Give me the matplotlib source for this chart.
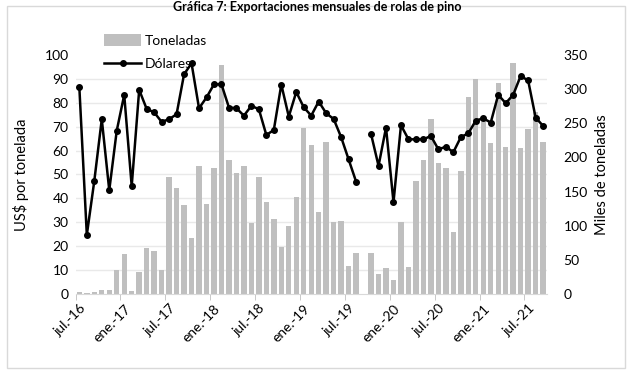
import numpy as np
import matplotlib.pyplot as plt
from matplotlib.ticker import MultipleLocator
from matplotlib.patches import Rectangle

# Monthly data, jul-16 .. sep-21 (ago-19 missing)
toneladas = [3.4, 2, 3.4, 5.9, 6.3, 34.6, 59, 4.4, 32.2, 67.3,
             62.4, 35.1, 170.8, 155.2, 129.8, 82, 187.4, 131.8, 185, 335.3,
             196.2, 176.7, 187.4, 103.5, 171.8, 134.7, 109.8, 68.8, 100, 142,
             243, 218.6, 120, 223, 105.4, 106.4, 41.5, 60, np.nan, 60,
             28.8, 38, 20, 105.4, 39, 165.4, 196.2, 256.2, 191.3, 184.5,
             91.3, 180.6, 289, 314.3, 257, 221.6, 309.4, 214.8, 337.8, 213.3,
             241.6, 266, 223]   # miles de toneladas

dolares = [86.5, 24.7, 47.3, 73.1, 43.4, 68.3, 83.3, 45.1, 85.4, 77.4,
           76.0, 72.0, 73.1, 75.2, 91.9, 96.5, 77.7, 82.2, 87.7, 87.7,
           78.0, 77.7, 74.6, 78.7, 77.3, 66.5, 68.6, 87.6, 74.2, 84.5,
           78.1, 74.6, 80.5, 75.6, 73.2, 65.6, 56.3, 47.0, np.nan, 66.9,
           53.6, 69.6, 38.4, 70.6, 64.7, 64.7, 64.7, 66.1, 60.5, 61.6,
           59.3, 65.6, 67.2, 72.5, 73.5, 71.7, 83.3, 79.8, 83.3, 91.2,
           89.3, 73.8, 70.3]   # US$ por tonelada

tick_labels = ['jul.-16', 'ene.-17', 'jul.-17', 'ene.-18', 'jul.-18', 'ene.-19',
               'jul.-19', 'ene.-20', 'jul.-20', 'ene.-21', 'jul.-21']
tick_idx = list(range(0, 61, 6))

titulo = 'Gráfica 7: Exportaciones mensuales de rolas de pino'

#%%
plt.rcParams['font.family'] = ['Lato', 'DejaVu Sans']
plt.rcParams['font.size'] = 10

x = np.arange(len(toneladas))

fig = plt.figure(figsize=(6.3, 3.71), dpi=100)
ax = fig.add_axes([0.12, 0.2075, 0.748, 0.6445])
ax2 = ax.twinx()

# bars (right scale) drawn first, line on top
bars = ax.bar(x, toneladas, width=0.72, color='#BFBFBF', label='Toneladas')
ax.set_ylim(0, 350)
ax.set_xlim(-0.5, len(x) - 0.5)
ax.yaxis.tick_right()
ax.yaxis.set_label_position('right')
ax.set_yticks(range(0, 351, 50))
ax.yaxis.set_minor_locator(MultipleLocator(35))
ax.grid(axis='y', which='minor', color='#E9E9E9', lw=1)
ax.set_axisbelow(True)
ax.tick_params(axis='y', which='both', length=0, pad=12)
ax.set_ylabel('Miles de toneladas', fontsize=10.5)
ax.yaxis.set_label_coords(1.102, 0.5)

ax.set_xticks(tick_idx, tick_labels, rotation=45, ha='right',
              rotation_mode='anchor')
ax.xaxis.set_minor_locator(MultipleLocator(6, offset=5.5))
ax.tick_params(axis='x', which='major', length=0, pad=6)
ax.tick_params(axis='x', which='minor', length=4, color='#BFBFBF')

for s in ['top', 'left', 'right']:
    ax.spines[s].set_visible(False)
ax.spines['bottom'].set_color('#D9D9D9')

line, = ax2.plot(x, dolares, '-o', color='black', lw=1.8, ms=4,
                 label='Dólares')
ax2.set_ylim(0, 100)
ax2.yaxis.tick_left()
ax2.yaxis.set_label_position('left')
ax2.set_yticks(range(0, 101, 10))
ax2.tick_params(axis='y', length=0, pad=5)
ax2.set_ylabel('US$ por tonelada', fontsize=10.5)
ax2.yaxis.set_label_coords(-0.099, 0.5)
for s in ax2.spines.values():
    s.set_visible(False)

fig.legend(handles=[bars, line], loc='upper left',
           bbox_to_anchor=(0.154, 0.926), frameon=False, borderpad=0,
           handlelength=2.7, handleheight=0.9, handletextpad=0.25,
           labelspacing=0.75, fontsize=10)

# chart border + title
fig.patches.append(Rectangle((7 / 630, 1 - 368 / 371), 618 / 630, 362 / 371,
                             transform=fig.transFigure, fill=False,
                             ec='#D9D9D9', lw=1))
fig.text(0.503, 0.998, titulo, ha='center', va='top',
         fontsize=9, fontweight='bold')

fig.savefig('out.png', dpi=100)
